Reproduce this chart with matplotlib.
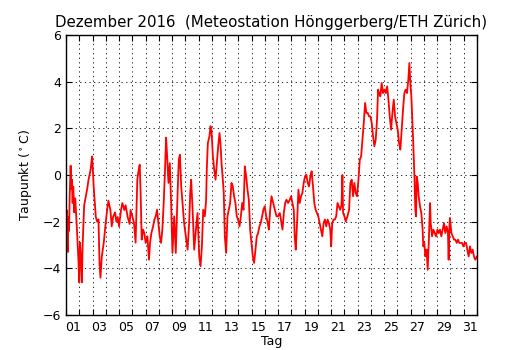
import numpy as np
import matplotlib
matplotlib.use("Agg")
import matplotlib.pyplot as plt

# dew point, Dec 2016 (day since Dec 1 00:00, deg C)
days = [
    0.00, 0.05, 0.10, 0.13, 0.18, 0.23, 0.28, 0.35, 0.40, 0.45, 0.50, 0.55, 0.62, 0.70, 0.85, 0.95,
    1.00, 1.05, 1.12, 1.20, 1.25, 1.37, 1.50, 1.60, 1.70, 1.85, 1.97,
    2.00, 2.10, 2.25, 2.35, 2.45, 2.53, 2.60, 2.70, 2.85, 2.95,
    3.10, 3.20, 3.35, 3.45, 3.55, 3.70, 3.80, 3.90,
    4.00, 4.15, 4.25, 4.40, 4.50, 4.65, 4.80, 4.87,
    5.00, 5.13, 5.25, 5.38, 5.45, 5.56, 5.63, 5.71, 5.81, 5.91,
    6.01, 6.14, 6.26, 6.34, 6.44, 6.57, 6.67, 6.77, 6.87, 6.97,
    7.07, 7.17, 7.27, 7.37, 7.47, 7.55, 7.63, 7.73, 7.83, 7.93,
    8.03, 8.16, 8.28, 8.41, 8.51, 8.59, 8.69, 8.79, 8.91,
    9.04, 9.17, 9.29, 9.37, 9.44, 9.55, 9.67, 9.80, 9.92,
    10.05, 10.15, 10.25, 10.35, 10.47, 10.57, 10.62, 10.70, 10.82, 10.90, 10.97,
    11.08, 11.18, 11.28, 11.38, 11.48, 11.58, 11.65, 11.73, 11.83, 11.90, 11.98,
    12.08, 12.18, 12.28, 12.38, 12.48, 12.58, 12.68, 12.78, 12.88, 12.98,
    13.09, 13.19, 13.29, 13.39, 13.49, 13.59, 13.69, 13.79, 13.89, 13.99,
    14.09, 14.19, 14.29, 14.39, 14.49, 14.59, 14.69, 14.79, 14.89, 14.99,
    15.10, 15.22, 15.30, 15.40, 15.50, 15.63, 15.75, 15.88,
    16.00, 16.13, 16.25, 16.33, 16.43, 16.53, 16.63, 16.75, 16.88, 16.98,
    17.08, 17.18, 17.25, 17.33, 17.43, 17.53, 17.63, 17.73, 17.83, 17.93,
    18.03, 18.13, 18.23, 18.33, 18.43, 18.53, 18.63, 18.73, 18.83, 18.93,
    19.03, 19.13, 19.23, 19.33, 19.43, 19.53, 19.63, 19.73, 19.83, 19.93,
    20.00, 20.08, 20.18, 20.28, 20.38, 20.48, 20.58, 20.68, 20.78, 20.85, 20.90,
    21.00, 21.10, 21.23, 21.35, 21.45, 21.55, 21.65, 21.75, 21.85, 21.95,
    22.06, 22.16, 22.26, 22.36, 22.46, 22.56, 22.66, 22.76, 22.86, 22.96,
    23.06, 23.16, 23.26, 23.36, 23.46, 23.54, 23.61, 23.71, 23.81, 23.91,
    24.02, 24.12, 24.22, 24.32, 24.42, 24.52, 24.62, 24.72, 24.82, 24.92,
    25.02, 25.12, 25.22, 25.32, 25.42, 25.52, 25.62, 25.72, 25.82, 25.90, 25.97,
    26.05, 26.13, 26.20, 26.28, 26.35, 26.40, 26.45, 26.53, 26.60, 26.70, 26.80, 26.90, 26.95,
    27.03, 27.10, 27.20, 27.28, 27.36, 27.46, 27.51, 27.61, 27.71, 27.81, 27.91,
    28.01, 28.11, 28.21, 28.31, 28.41, 28.51, 28.61, 28.71, 28.81, 28.86, 28.91, 28.96,
    29.07, 29.17, 29.27, 29.37, 29.47, 29.57, 29.67, 29.77, 29.87, 29.97,
    30.07, 30.17, 30.27, 30.37, 30.47, 30.57, 30.67, 30.77, 30.87, 31.00,
]
taupunkt = [
    -2.0, -1.5, -3.0, -3.3, -1.8, -2.4, -0.9, 0.4, -0.6, -0.2, -1.2, -0.5, -1.6, -1.0, -2.6, -3.8,
    -4.6, -2.9, -3.5, -4.6, -3.1, -1.3, -0.9, -0.6, -0.2, 0.2, 0.8,
    0.5, -0.6, -1.8, -2.0, -1.9, -3.8, -4.4, -3.5, -2.9, -2.3,
    -1.5, -1.1, -1.5, -2.2, -1.8, -1.6, -2.0, -1.8,
    -2.2, -1.5, -1.2, -1.5, -1.3, -1.8, -2.1, -1.5,
    -1.77, -2.06, -2.9, -0.2, 0.1, 0.44, -0.77, -2.77, -2.34, -2.49,
    -2.91, -2.63, -3.63, -2.91, -2.49, -2.2, -1.91, -1.77, -1.49, -2.06,
    -2.63, -2.91, -2.34, -1.2, 0.23, 1.6, 0.8, -0.34, 0.51, -1.2,
    -3.34, -1.77, -3.34, -0.91, 0.66, 0.87, -0.49, -1.2, -2.06,
    -2.63, -3.2, -2.06, -0.77, -0.2, -1.49, -3.2, -2.34, -1.63,
    -3.49, -3.91, -3.06, -1.49, -1.77, -1.06, 0.23, 1.37, 1.66, 2.09, 1.94,
    0.8, 0.23, -0.2, 0.51, 1.23, 1.8, 1.37, 0.51, -0.2, -0.77, -2.63,
    -3.34, -1.77, -1.49, -1.2, -0.34, -0.49, -0.91, -1.2, -1.77, -1.91,
    -2.2, -1.77, -1.2, -1.49, 0.37, -0.06, -0.63, -1.06, -2.34, -2.91,
    -3.49, -3.77, -3.2, -2.63, -2.49, -2.2, -2.06, -1.77, -1.49, -1.34,
    -1.77, -2.06, -2.34, -1.49, -0.91, -1.2, -1.49, -1.77,
    -1.77, -1.63, -2.06, -2.34, -1.63, -1.2, -1.06, -1.2, -1.06, -0.91,
    -1.2, -1.49, -2.63, -3.2, -2.06, -0.63, -1.2, -0.91, -0.77, -0.34,
    -0.06, 0.01, -0.34, -0.49, -0.06, 0.16, -0.49, -1.2, -1.49, -1.63,
    -1.77, -2.06, -2.34, -2.63, -2.06, -1.91, -2.2, -1.91, -2.06, -2.34,
    -3.06, -2.06, -1.91, -1.91, -1.77, -1.2, -1.34, -1.49, -1.3, 0.0, -1.63,
    -1.77, -1.99, -1.77, -1.49, -0.34, -0.2, -0.91, -0.34, -0.77, -0.91,
    -0.2, 0.66, 0.8, 1.51, 2.23, 3.09, 2.66, 2.66, 2.51, 2.51,
    2.23, 1.66, 1.23, 1.51, 2.37, 3.66, 3.51, 3.37, 3.94, 3.51,
    3.66, 3.51, 3.8, 3.23, 2.51, 1.94, 2.66, 3.23, 2.51, 2.23,
    1.94, 1.37, 1.09, 1.94, 2.8, 3.51, 3.66, 3.51, 4.09, 4.8, 3.94,
    3.37, 2.23, 1.23, -0.06, -1.49, -1.77, -0.06, -0.34, -0.91, -1.34, -1.63, -2.34, -3.06,
    -2.91, -3.49, -3.2, -4.06, -2.91, -1.2, -2.06, -2.63, -2.34, -2.49, -2.63,
    -2.34, -2.49, -2.34, -2.63, -2.34, -2.06, -2.49, -2.2, -2.49, -3.63, -2.34, -1.84,
    -2.49, -2.63, -2.77, -2.77, -2.91, -2.77, -2.91, -2.91, -2.91, -3.06,
    -2.91, -2.91, -3.2, -3.49, -3.06, -3.34, -3.2, -3.49, -3.63, -3.49,
]
day_labels = ["%02d" % d for d in range(1, 32)]

fig = plt.figure(figsize=(5.3, 3.5), dpi=100)
ax = fig.add_axes([0.1245, 0.1, 0.7755, 0.8])

ax.plot(days, taupunkt, color="red", linewidth=1.3)

ax.set_xlim(0, 31)
ax.set_ylim(-6, 6)
ax.set_yticks(np.arange(-6, 7, 2))

# day boundaries get ticks + grid, labels sit at noon
ax.set_xticks(np.arange(0, 32))
ax.set_xticklabels([])
ax.set_xticks(np.arange(31) + 0.5, minor=True)
ax.set_xticklabels([l if i % 2 == 0 else "" for i, l in enumerate(day_labels)], minor=True)
ax.tick_params(axis="x", which="minor", length=0, labelsize=9, pad=4)
ax.tick_params(which="major", direction="in", top=True, right=True, length=4, labelsize=9)

ax.grid(True, which="major", color="k", linestyle=(0, (1.5, 4)), linewidth=0.6)

ax.set_xlabel("Tag", fontsize=9, labelpad=1)
ax.set_ylabel(r"Taupunkt ($^\circ$C)", fontsize=9, labelpad=6)
ax.set_title("Dezember 2016  (Meteostation Hönggerberg/ETH Zürich)", fontsize=10.8)

for s in ax.spines.values():
    s.set_linewidth(1.0)

fig.savefig("out.png", dpi=100)
